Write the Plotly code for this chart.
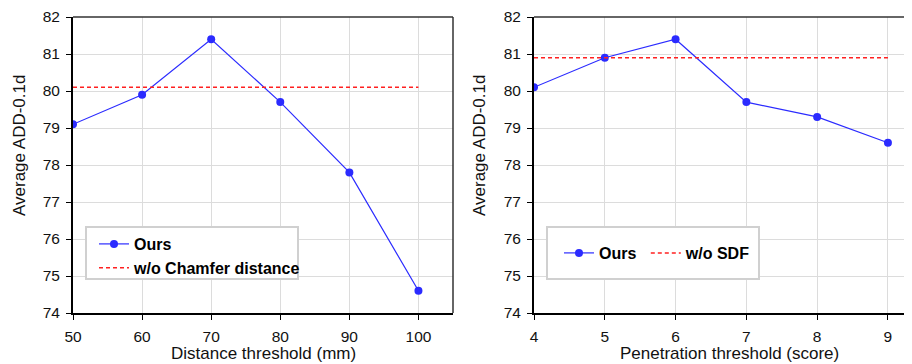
import plotly.graph_objects as go

dist_x = [50, 60, 70, 80, 90, 100]
dist_ours = [79.1, 79.9, 81.4, 79.7, 77.8, 74.6]
dist_base = [80.1, 80.1, 80.1, 80.1, 80.1, 80.1]

pen_x = [4, 5, 6, 7, 8, 9]
pen_ours = [80.1, 80.9, 81.4, 79.7, 79.3, 78.6]
pen_base = [80.9, 80.9, 80.9, 80.9, 80.9, 80.9]

y_ticks = [74, 75, 76, 77, 78, 79, 80, 81, 82]

OFF = 8  # page body margin
W, H = 912 - OFF, 364 - OFF


def px(x):
    return (x - OFF) / W


def py(y):
    return 1 - (y - OFF) / H


blue = "#2b2bff"
red = "#ff2020"
font = "Liberation Sans, Arial, sans-serif"

fig = go.Figure()
fig.add_trace(go.Scatter(x=dist_x, y=dist_ours, mode="lines+markers", name="Ours",
                         line=dict(color=blue, width=1.2), marker=dict(size=8, color=blue),
                         xaxis="x", yaxis="y", legend="legend", legendgroup="a"))
fig.add_trace(go.Scatter(x=dist_x, y=dist_base, mode="lines", name="w/o Chamfer distance",
                         line=dict(color=red, width=1.5, dash="4px,3px"),
                         xaxis="x", yaxis="y", legend="legend", legendgroup="b"))
fig.add_trace(go.Scatter(x=pen_x, y=pen_ours, mode="lines+markers", name="Ours ",
                         line=dict(color=blue, width=1.2), marker=dict(size=8, color=blue),
                         xaxis="x2", yaxis="y2", legend="legend2"))
fig.add_trace(go.Scatter(x=pen_x, y=pen_base, mode="lines", name="w/o SDF",
                         line=dict(color=red, width=1.5, dash="4px,3px"),
                         xaxis="x2", yaxis="y2", legend="legend2"))

yd = [py(313), py(17)]
common_ax = dict(showgrid=True, gridcolor="#dcdcdc", gridwidth=1, zeroline=False,
                 showline=True, linecolor="black", linewidth=2, automargin=False,
                 ticks="outside", ticklen=5, tickcolor="black", ticklabelstandoff=3,
                 ticklabeloverflow="allow",
                 tickfont=dict(size=15.5, color="#111", family=font))

fig.update_layout(
    width=W, height=H, margin=dict(l=0, r=0, t=0, b=0),
    paper_bgcolor="white", plot_bgcolor="white",
    font=dict(family=font, color="#111"),
    xaxis=dict(domain=[px(73), px(453)], range=[50, 105], tickvals=dist_x,
               anchor="y", **common_ax),
    yaxis=dict(domain=yd, range=[74, 82], tickvals=y_ticks, anchor="x", **common_ax),
    xaxis2=dict(domain=[px(534), 1.0], range=[4, 9.34], tickvals=pen_x,
                anchor="y2", **common_ax),
    yaxis2=dict(domain=yd, range=[74, 82], tickvals=y_ticks, anchor="x2", **common_ax),
    legend=dict(x=px(94), y=py(227), xanchor="left", yanchor="top",
                bgcolor="rgba(0,0,0,0)", borderwidth=0,
                font=dict(size=16, family=font, color="black", weight="bold"),
                tracegroupgap=0, itemwidth=30),
    legend2=dict(x=px(559), y=py(253), xanchor="left", yanchor="middle",
                 orientation="h", bgcolor="rgba(0,0,0,0)", borderwidth=0,
                 itemwidth=30,
                 font=dict(size=16, family=font, color="black", weight="bold")),
    showlegend=True,
)

# titles
title_font = dict(size=17, family=font, color="#111")
fig.add_annotation(text="Distance threshold (mm)", x=px(263), y=py(353), xref="paper", yref="paper",
                   showarrow=False, font=title_font, xanchor="center", yanchor="middle")
fig.add_annotation(text="Penetration threshold (score)", x=px(729), y=py(353), xref="paper", yref="paper",
                   showarrow=False, font=title_font, xanchor="center", yanchor="middle")
fig.add_annotation(text="Average ADD-0.1d", x=px(20), y=py(146), xref="paper", yref="paper",
                   showarrow=False, font=title_font, textangle=-90, xanchor="center", yanchor="middle")
fig.add_annotation(text="Average ADD-0.1d", x=px(480), y=py(146), xref="paper", yref="paper",
                   showarrow=False, font=title_font, textangle=-90, xanchor="center", yanchor="middle")

# frame top/right
for xr, yr in [("x domain", "y domain"), ("x2 domain", "y2 domain")]:
    fig.add_shape(type="line", xref=xr, yref=yr, x0=0, x1=1, y0=1, y1=1,
                  line=dict(color="#333", width=1.5))
    fig.add_shape(type="line", xref=xr, yref=yr, x0=1, x1=1, y0=0, y1=1,
                  line=dict(color="#333", width=1.5))

# legend boxes
for x0, x1 in [(86, 298), (547, 759)]:
    fig.add_shape(type="rect", xref="paper", yref="paper", x0=px(x0), x1=px(x1),
                  y0=py(279), y1=py(227), fillcolor="white",
                  line=dict(color="#d0d0d0", width=2), layer="above")

fig.write_html("out.html")
